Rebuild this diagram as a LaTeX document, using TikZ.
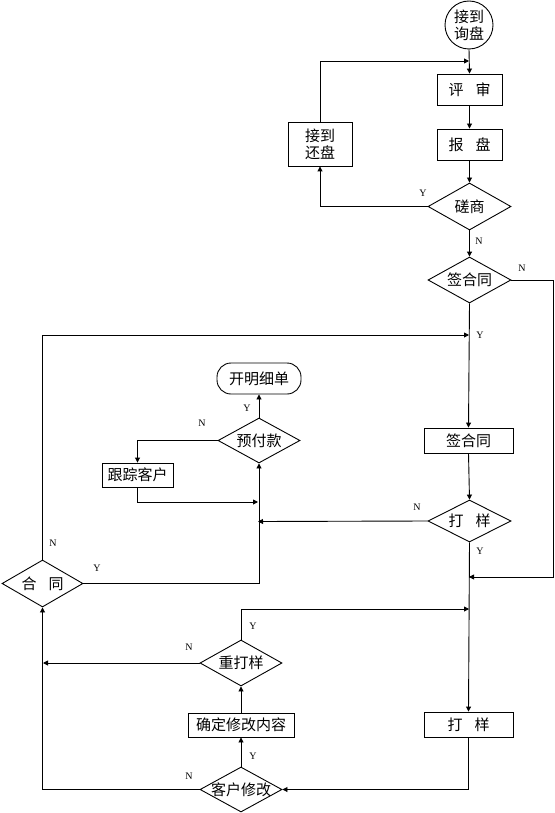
\documentclass[tikz,border=0pt]{standalone}
\usepackage{fontspec}
\setmainfont{Liberation Serif}
\newfontfamily\cjk{Noto Sans CJK SC}
\usetikzlibrary{arrows.meta,shapes.geometric}
\begin{document}
\begin{tikzpicture}[x=1pt,y=-1pt,
  every path/.style={line width=0.9pt},
  arr/.style={-{Triangle[length=5pt,width=5pt]}},
  box/.style={draw,rectangle,inner sep=0pt,font=\cjk\fontsize{15}{17}\selectfont},
  dia/.style={draw,diamond,inner sep=0pt},
  dtxt/.style={inner sep=0pt,font=\cjk\fontsize{15}{17}\selectfont},
  term/.style={draw,rectangle,rounded corners=14pt,inner sep=0pt,font=\cjk\fontsize{15}{17}\selectfont},
  lab/.style={inner sep=0pt,font=\fontsize{10}{12}\selectfont}]
\fill[white] (0,0) rectangle (554,813);
\useasboundingbox (0,0) rectangle (554,813);
% nodes
\node[draw,circle,minimum size=48pt,inner sep=0pt,align=center,font=\cjk\fontsize{15}{17}\selectfont] (c1) at (469,25) {接到\\询盘};
\node[box,minimum width=65pt,minimum height=31pt] (r1) at (469.5,89.5) {评\hspace{0.8em}审};
\node[box,minimum width=65pt,minimum height=31pt] (r2) at (469.5,144.5) {报\hspace{0.8em}盘};
\node[dia,minimum width=83pt,minimum height=47pt] (d1) at (469.5,206.5) {};
\node[dtxt] at (d1) {磋商};
\node[box,minimum width=64pt,minimum height=44pt,align=center] (hb) at (320,144) {接到\\还盘};
\node[dia,minimum width=83pt,minimum height=46pt] (d2) at (469.5,280) {};
\node[dtxt] at (d2) {签合同};
\node[box,minimum width=89pt,minimum height=25pt] (b3) at (468.5,440.5) {签合同};
\node[dia,minimum width=83pt,minimum height=42pt] (d3) at (469.5,521) {};
\node[dtxt] at (d3) {打\hspace{0.8em}样};
\node[box,minimum width=89pt,minimum height=25pt] (b4) at (468.5,724.5) {打\hspace{0.8em}样};
\node[dia,minimum width=82pt,minimum height=45pt] (d6) at (241,789.5) {};
\node[dtxt] at (d6) {客户修改};
\node[box,minimum width=106pt,minimum height=24pt] (b5) at (241,725) {确定修改内容};
\node[dia,minimum width=82pt,minimum height=46pt] (d5) at (241,663) {};
\node[dtxt] at (d5) {重打样};
\node[dia,minimum width=81pt,minimum height=47pt] (d4) at (42.5,583.5) {};
\node[dtxt] at (d4) {合\hspace{0.8em}同};
\node[dia,minimum width=82pt,minimum height=45pt] (d7) at (259,440.5) {};
\node[dtxt] at (d7) {预付款};
\node[term,minimum width=84pt,minimum height=31pt] (t1) at (259,378.5) {开明细单};
\node[box,minimum width=71pt,minimum height=24pt] (b6) at (137.5,475) {跟踪客户};
% junction coordinates
\coordinate (j1) at (469,61);
\coordinate (cr) at (553,577);
\coordinate (j3) at (469,577);
\coordinate (j2) at (469,335);
\coordinate (j4) at (469,609);
\coordinate (j5) at (43,663);
\coordinate (j6) at (258,521.5);
\coordinate (j7) at (258,502);
% connectors
\draw[arr] (c1.south) -- (r1.north);
\draw[arr] (r1.south) -- (r2.north);
\draw[arr] (r2.south) -- (d1.north);
\draw[arr] (d1.west) -| (hb.south);
\draw[arr] (hb.north) |- (j1);
\draw[arr] (d1.south) -- (d2.north);
\draw[arr] (d2.east) -| (cr) -- (j3);
\draw[arr] (d2.south) -- (b3.north);
\draw[arr] (b3.south) -- (d3.north);
\draw[arr] (d3.south) -- (b4.north);
\draw[arr] (b4.south) |- (d6.east);
\draw[arr] (d6.north) -- (b5.south);
\draw[arr] (b5.north) -- (d5.south);
\draw[arr] (d5.north) |- (j4);
\draw[arr] (d5.west) -- (j5);
\draw[arr] (d6.west) -| (d4.south);
\draw[arr] (d4.north) |- (j2);
\draw[arr] (d4.east) -| (d7.south);
\draw[arr] (d3.west) -- (j6);
\draw[arr] (d7.north) -- (t1.south);
\draw[arr] (d7.west) -| (b6.north);
\draw[arr] (b6.south) |- (j7);
% labels
\node[lab] (l1) at (423,193) {Y};
\node[lab] (l2) at (479,241) {N};
\node[lab] (l3) at (522,268) {N};
\node[lab] (l4) at (480,335) {Y};
\node[lab] (l5) at (417,507) {N};
\node[lab] (l6) at (480,551) {Y};
\node[lab] (l7) at (247,408) {Y};
\node[lab] (l8) at (202,423) {N};
\node[lab] (l9) at (53,543) {N};
\node[lab] (l10) at (97,568) {Y};
\node[lab] (l11) at (253,626) {Y};
\node[lab] (l12) at (189,647) {N};
\node[lab] (l13) at (253,756) {Y};
\node[lab] (l14) at (189,776) {N};
\end{tikzpicture}
\end{document}
